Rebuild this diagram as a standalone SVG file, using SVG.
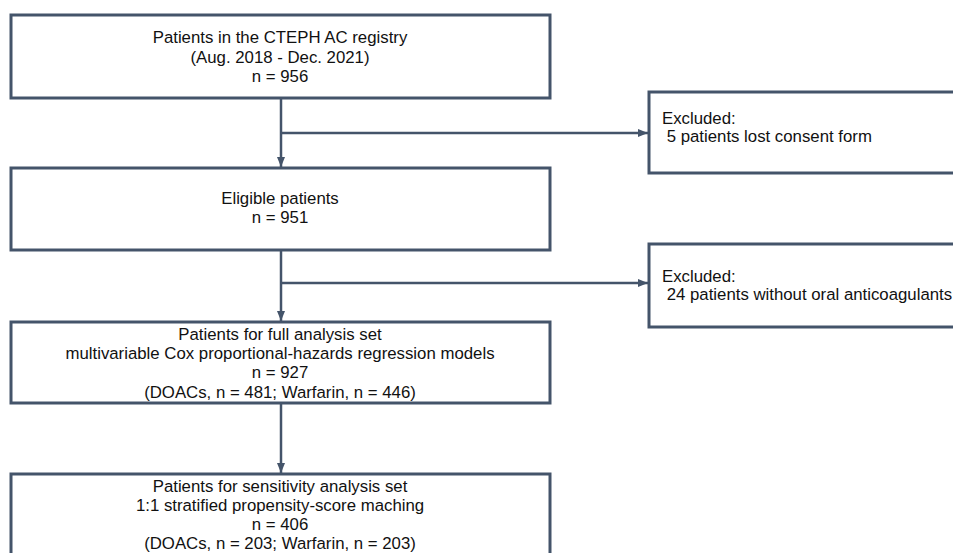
<svg xmlns="http://www.w3.org/2000/svg" width="953" height="553" viewBox="0 0 953 553">
<style>
.box{fill:#fff;stroke:#44546a;stroke-width:3}
.t{font-family:"Liberation Sans",Arial,sans-serif;font-size:16.8px;fill:#111}
.c{text-anchor:middle}
.conn{fill:none;stroke:#44546a;stroke-width:2.5}
</style>
<defs>
<marker id="ah" markerUnits="userSpaceOnUse" markerWidth="10" markerHeight="10" viewBox="0 0 10 10" refX="10" refY="5" orient="auto">
<path d="M0,1 L10,5 L0,9 Z" fill="#44546a"/>
</marker>
</defs>
<rect width="953" height="553" fill="#fff"/>
<g id="connectors">
<line class="conn" x1="281" y1="98" x2="281" y2="167" marker-end="url(#ah)"/>
<line class="conn" x1="281" y1="133" x2="648" y2="133" marker-end="url(#ah)"/>
<line class="conn" x1="281" y1="250" x2="281" y2="321" marker-end="url(#ah)"/>
<line class="conn" x1="281" y1="283" x2="648" y2="283" marker-end="url(#ah)"/>
<line class="conn" x1="281" y1="403" x2="281" y2="473" marker-end="url(#ah)"/>
</g>
<g id="n1">
<rect class="box" x="11" y="15" width="539" height="83"/>
<text class="t c" x="280" y="43">Patients in the CTEPH AC registry</text>
<text class="t c" x="280" y="63">(Aug. 2018 - Dec. 2021)</text>
<text class="t c" x="280" y="82">n = 956</text>
</g>
<g id="ex1">
<rect class="box" x="649" y="92" width="320" height="81"/>
<text class="t" x="662" y="124">Excluded:</text>
<text class="t" x="662" y="142" xml:space="preserve"> 5 patients lost consent form</text>
</g>
<g id="n2">
<rect class="box" x="11" y="168" width="539" height="82"/>
<text class="t c" x="280" y="204">Eligible patients</text>
<text class="t c" x="280" y="223">n = 951</text>
</g>
<g id="ex2">
<rect class="box" x="649" y="244" width="320" height="83"/>
<text class="t" x="662" y="282">Excluded:</text>
<text class="t" x="662" y="300" xml:space="preserve"> 24 patients without oral anticoagulants</text>
</g>
<g id="n3">
<rect class="box" x="11" y="322" width="539" height="81"/>
<text class="t c" x="280" y="340">Patients for full analysis set</text>
<text class="t c" x="280" y="359">multivariable Cox proportional-hazards regression models</text>
<text class="t c" x="280" y="378">n = 927</text>
<text class="t c" x="280" y="398">(DOACs, n = 481; Warfarin, n = 446)</text>
</g>
<g id="n4">
<rect class="box" x="11" y="474" width="539" height="100"/>
<text class="t c" x="280" y="492">Patients for sensitivity analysis set</text>
<text class="t c" x="280" y="511">1:1 stratified propensity-score maching</text>
<text class="t c" x="280" y="530">n = 406</text>
<text class="t c" x="280" y="549">(DOACs, n = 203; Warfarin, n = 203)</text>
</g>
</svg>
